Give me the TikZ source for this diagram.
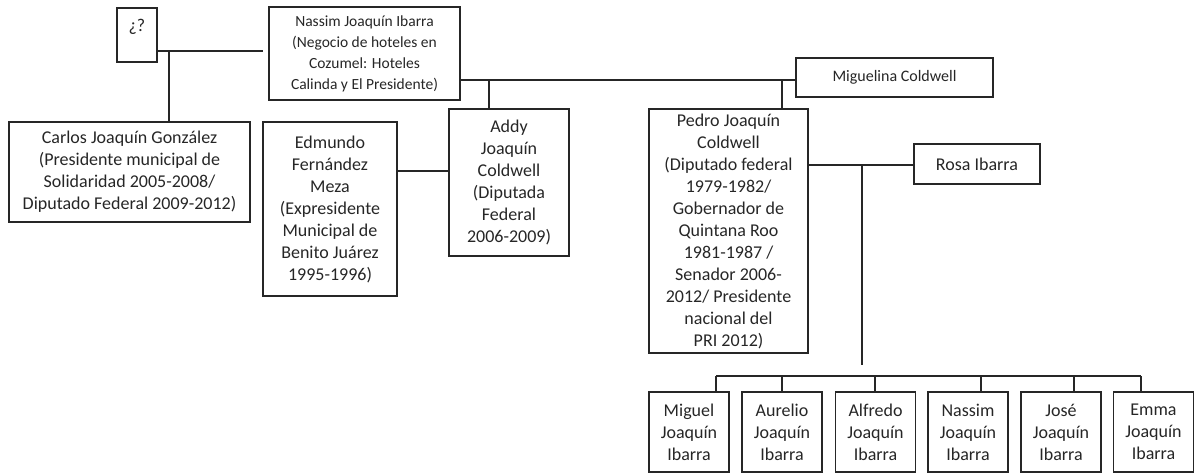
\documentclass[tikz,border=0pt]{standalone}
\usepackage{fontspec}
\setmainfont{Carlito}
\usepackage{tikz}

\begin{document}
\begin{tikzpicture}[x=1pt,y=1pt,yscale=-1,
    box/.style={draw=black!85, line width=1.1pt, rectangle, inner sep=0pt, align=center,
        text=black!85, font=\fontsize{18}{22}\selectfont},
    kid/.style={box, minimum width=80pt, minimum height=80pt},
    link/.style={draw=black!85, line width=1.1pt}]
    \useasboundingbox (0,0) rectangle (1196,473);

    %Shape: Rectangle - unknown
    \node[box, minimum width=40pt, minimum height=54pt, text height=24pt, text depth=30pt] (unk) at (137,35) {¿?};
    %Shape: Rectangle - Nassim
    \node[box, minimum width=191pt, minimum height=93pt, font=\fontsize{15.5}{21}\selectfont] (nassim) at (364.5,53.5)
        {Nassim Joaquín Ibarra\\(Negocio de hoteles en\\Cozumel: Hoteles\\Calinda y El Presidente)};
    %Shape: Rectangle - Carlos
    \node[box, minimum width=241pt, minimum height=100pt] (carlos) at (129.5,172)
        {Carlos Joaquín González\\(Presidente municipal de\\Solidaridad 2005-2008/\\Diputado Federal 2009-2012)};
    %Shape: Rectangle - Edmundo
    \node[box, minimum width=134pt, minimum height=174pt] (edmundo) at (330,209)
        {Edmundo\\Fernández\\Meza\\(Expresidente\\Municipal de\\Benito Juárez\\1995-1996)};
    %Shape: Rectangle - Addy
    \node[box, minimum width=120pt, minimum height=147pt] (addy) at (509,182.5)
        {Addy\\Joaquín\\Coldwell\\(Diputada\\Federal\\2006-2009)};
    %Shape: Rectangle - Miguelina
    \node[box, minimum width=197pt, minimum height=39pt, font=\fontsize{16}{20}\selectfont] (miguelina) at (894.5,77.5)
        {Miguelina Coldwell};
    %Shape: Rectangle - Pedro
    \node[box, minimum width=159pt, minimum height=244pt] (pedro) at (728.5,231)
        {Pedro Joaquín\\Coldwell\\(Diputado federal\\1979-1982/\\Gobernador de\\Quintana Roo\\1981-1987 /\\Senador 2006-\\2012/ Presidente\\nacional del\\PRI 2012)};
    %Shape: Rectangle - Rosa
    \node[box, minimum width=126pt, minimum height=40pt] (rosa) at (977,164) {Rosa Ibarra};

    % children
    \foreach \x/\k/\first in {689/miguel/Miguel, 782/aurelio/Aurelio, 875.5/alfredo/Alfredo,
                              968/nassimk/Nassim, 1061/jose/José, 1153.5/emma/Emma}
        \node[kid] (\k) at (\x,432) {\first\\Joaquín\\Ibarra};

    % junctions
    \coordinate (jq) at (169,51);
    \coordinate (jA) at (489,80);
    \coordinate (jP) at (782,80);
    \coordinate (jm) at (423,171);
    \coordinate (jR) at (862,165);
    \coordinate (jEnd) at (862,365);
    \coordinate (busL) at (716,376);
    \coordinate (busR) at (1141,376);

    %Straight Lines
    \draw[link, shorten >=5pt] (unk.east |- jq) -- (nassim.west |- jq);
    \draw[link] (jq) -- (jq |- carlos.north);
    \draw[link] (nassim.east |- jA) -- (miguelina.west |- jA);
    \draw[link] (jA) -- (jA |- addy.north);
    \draw[link] (jP) -- (jP |- pedro.north);
    \draw[link] (edmundo.east |- jm) -- (addy.west |- jm);
    \draw[link] (pedro.east |- jR) -- (rosa.west |- jR);
    \draw[link] (jR) -- (jEnd);
    \draw[link] (busL) -- (busR);
    \foreach \dx/\k in {716/miguel, 782/aurelio, 875/alfredo, 981/nassimk, 1074/jose, 1141/emma}
        \draw[link] (busL -| \dx,0) -- (\k.north -| \dx,0);

\end{tikzpicture}
\end{document}
